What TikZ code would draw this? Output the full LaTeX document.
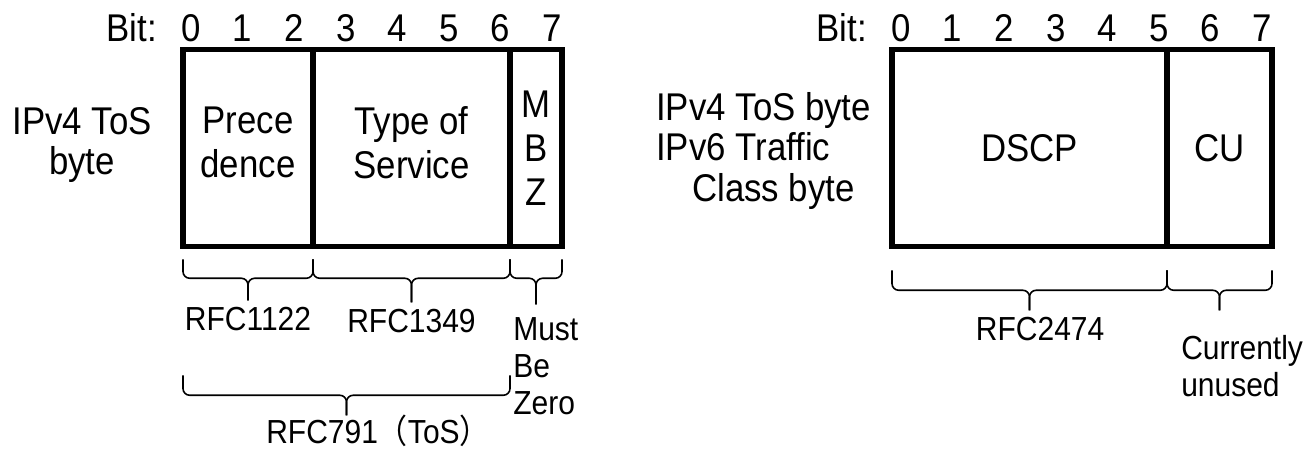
\documentclass[tikz,border=0pt]{standalone}
\usepackage{fontspec}
\setmainfont{Liberation Sans}[FakeStretch=0.9]
\newfontfamily\cjkfont{Noto Sans CJK SC}[FakeStretch=0.9]
\usetikzlibrary{positioning,calc}

\newcommand\bigtext{\fontsize{29}{33}\selectfont}
\newcommand\labeltext{\fontsize{29}{30.5}\selectfont}
\newcommand\smalltext{\fontsize{25}{28}\selectfont}

% brace under a field: left, right, top, arm, tip (px below), tip name
\newcommand\fieldbrace[6]{%
  \draw[bracket] ($(#1)+(0,#3)$) -- ($(#1)+(0,#4)$) -- ($(#1)!.5!(#2)+(0,#4)$) -- ($(#1)!.5!(#2)+(0,#5)$) coordinate (#6);
  \draw[bracket] ($(#2)+(0,#3)$) -- ($(#2)+(0,#4)$) -- ($(#1)!.5!(#2)+(0,#4)$) -- ($(#1)!.5!(#2)+(0,#5)$);
}

\begin{document}
\begin{tikzpicture}[x=0.75pt, y=-0.75pt, node distance=38.7pt]
  \tikzstyle{field} = [rectangle, draw, line width=4pt, inner sep=0pt, outer sep=0pt,
                       minimum height=147.4pt]
  \tikzstyle{celltext} = [inner sep=0pt, align=center, font=\bigtext]
  \tikzstyle{bitnum} = [inner sep=0pt, font=\bigtext]
  \tikzstyle{note} = [font=\smalltext]
  \tikzstyle{bracket} = [line width=1.2pt, rounded corners=5pt]

\useasboundingbox (0,0) rectangle (1311,452);

% IPv4 ToS byte (old layout)
\node[bitnum, anchor=east] (bitl) at (157,28) {Bit:};
\node[bitnum] (bl0) at (191,28) {0};
\node[bitnum, right of=bl0] (bl1) {1};
\node[bitnum, right of=bl1] (bl2) {2};
\node[bitnum, right of=bl2] (bl3) {3};
\node[bitnum, right of=bl3] (bl4) {4};
\node[bitnum, right of=bl4] (bl5) {5};
\node[bitnum, right of=bl5] (bl6) {6};
\node[bitnum, right of=bl6] (bl7) {7};
\node[align=center, inner sep=0pt, font=\labeltext] (tosl) at (82,145) {IPv4 ToS\\byte};
\node[field, minimum width=97.5pt] (prec) at (248,148) {};
\node[field, minimum width=147.75pt, right=0pt of prec] (tos) {};
\node[field, minimum width=39pt, right=0pt of tos] (mbz) {};
\node[celltext, yshift=4pt] (precl) at (prec) {Prece\\dence};
\node[celltext, yshift=4pt] (tosx) at (tos) {Type of\\Service};
\node[celltext] (mbzx) at (mbz) {M\\B\\Z};
\fieldbrace{prec.south west}{prec.south east}{13}{32}{54}{t1}
\fieldbrace{prec.south east}{tos.south east}{13}{32}{56}{t2}
\fieldbrace{tos.south east}{mbz.south east}{13}{32}{58}{t3}
\fieldbrace{prec.south west}{tos.south east}{129}{149}{169}{t4}
\node[note, below=2pt of t1] (r1122) {RFC1122};
\node[note, below=2pt of t2] (r1349) {RFC1349};
\node[note, align=left, anchor=base west, inner sep=0pt] (mbzl) at (513,415) {Must\\Be\\Zero};
\node[note, anchor=base west, inner sep=0pt] (r791) at (266,444) {RFC791{\cjkfont （}ToS{\cjkfont ）}};

% DiffServ layout
\node[bitnum, anchor=east] (bitr) at (867,28) {Bit:};
\node[bitnum] (br0) at (901,28) {0};
\node[bitnum, right of=br0] (br1) {1};
\node[bitnum, right of=br1] (br2) {2};
\node[bitnum, right of=br2] (br3) {3};
\node[bitnum, right of=br3] (br4) {4};
\node[bitnum, right of=br4] (br5) {5};
\node[bitnum, right of=br5] (br6) {6};
\node[bitnum, right of=br6] (br7) {7};
\node[align=left, anchor=west, inner sep=0pt, font=\labeltext] (tcl) at (656,151) {IPv4 ToS byte\\IPv6 Traffic\\\hspace*{27pt}Class byte};
\node[field, minimum width=206.25pt] (dscp) at (1029.5,148) {};
\node[field, minimum width=78.75pt, right=0pt of dscp] (cu) {};
\node[celltext] (dscpx) at (dscp) {DSCP};
\node[celltext] (cux) at (cu) {CU};
\fieldbrace{dscp.south west}{dscp.south east}{24}{44}{64}{t5}
\fieldbrace{cu.south west}{cu.south east}{24}{44}{64}{t6}
\node[note, below=2pt of t5, xshift=8pt] (r2474) {RFC2474};
\node[note, align=left, anchor=base west, inner sep=0pt] (cul) at (1181,397) {Currently\\unused};
\end{tikzpicture}
\end{document}
